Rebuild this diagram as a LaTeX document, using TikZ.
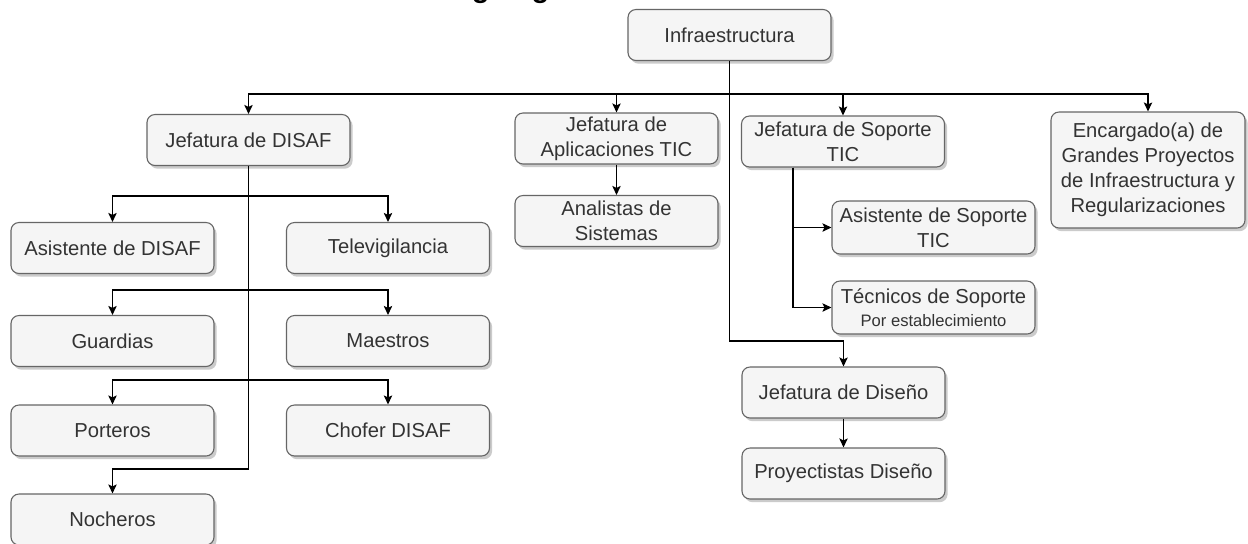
\documentclass[tikz,border=0pt]{standalone}
\usepackage{fontspec}
\setmainfont{Liberation Sans}
\usetikzlibrary{arrows.meta,shadows}
\definecolor{cajafondo}{HTML}{F5F5F5}
\definecolor{cajaborde}{HTML}{666666}
\definecolor{cajatexto}{HTML}{333333}
\tikzset{
  caja/.style={draw=cajaborde, fill=cajafondo, text=cajatexto, line width=0.55pt,
    rounded corners=4pt, minimum width=101.5pt, minimum height=25.5pt,
    inner sep=1pt, align=center, font=\fontsize{10.1}{12.5}\selectfont,
    drop shadow={shadow xshift=1.3pt, shadow yshift=-1.6pt, fill=black!45, opacity=.45}},
  flecha/.style={line width=0.6pt, -{Stealth[length=4.5pt,width=4.2pt,inset=1pt]}}
}
\begin{document}
\begin{tikzpicture}[x=0.5pt,y=-0.5pt]
  \clip (0,0) rectangle (1248,543);
  \fill[white] (0,0) rectangle (1248,543);
  \node[anchor=base west, font=\bfseries\fontsize{14.5}{16}\selectfont] (titulo) at (431,-3) {Organigrama};
  % nodos
  \node[caja] (infra) at (729.5,35) {Infraestructura};
  \node[caja] (disaf) at (248.5,140) {Jefatura de DISAF};
  \node[caja] (apps) at (616.5,138.5) {Jefatura de\\Aplicaciones TIC};
  \node[caja] (analistas) at (616.5,221) {Analistas de\\Sistemas};
  \node[caja] (soporte) at (843,141.5) {Jefatura de Soporte\\TIC};
  \node[caja, minimum width=97pt, minimum height=58pt] (encargado) at (1148,170)
    {Encargado(a) de\\Grandes Proyectos\\de Infraestructura y\\Regularizaciones};
  \node[caja] (asistdisaf) at (112.5,248) {Asistente de DISAF};
  \node[caja] (televig) at (388,248) {Televigilancia};
  \node[caja] (guardias) at (112.5,341) {Guardias};
  \node[caja] (maestros) at (388,341) {Maestros};
  \node[caja] (porteros) at (112.5,430.5) {Porteros};
  \node[caja] (chofer) at (388,430.5) {Chofer DISAF};
  \node[caja] (nocheros) at (112.5,519.5) {Nocheros};
  \node[caja, minimum height=26.5pt] (asistsop) at (933.5,227.5) {Asistente de Soporte\\TIC};
  \node[caja, minimum height=26.5pt] (tecnicos) at (933.5,307.5)
    {Técnicos de Soporte\\[-1pt]{\fontsize{8.3}{10}\selectfont Por establecimiento}};
  \node[caja] (diseno) at (843.5,392.5) {Jefatura de Diseño};
  \node[caja] (proyectistas) at (843.5,473.5) {Proyectistas Diseño};
  % conectores
  \begin{scope}[flecha]
    \draw (infra.south) -- ++(0,33) -| (disaf.north);
    \draw (infra.south) -- ++(0,33) -| (apps.north);
    \draw (infra.south) -- ++(0,33) -| (soporte.north);
    \draw (infra.south) -- ++(0,33) -| (encargado.north);
    \draw (infra.south) -- ++(0,280) -| (diseno.north);
    \draw (apps) -- (analistas);
    \draw ([xshift=-25pt]soporte.south) |- (asistsop.west);
    \draw ([xshift=-25pt]soporte.south) |- (tecnicos.west);
    \draw (diseno) -- (proyectistas);
    \draw (disaf.south) -- ++(0,30) -| (asistdisaf.north);
    \draw (disaf.south) -- ++(0,30) -| (televig.north);
    \draw (disaf.south) -- ++(0,124) -| (guardias.north);
    \draw (disaf.south) -- ++(0,124) -| (maestros.north);
    \draw (disaf.south) -- ++(0,214) -| (porteros.north);
    \draw (disaf.south) -- ++(0,214) -| (chofer.north);
    \draw (disaf.south) -- ++(0,303) -| (nocheros.north);
  \end{scope}
\end{tikzpicture}
\end{document}
